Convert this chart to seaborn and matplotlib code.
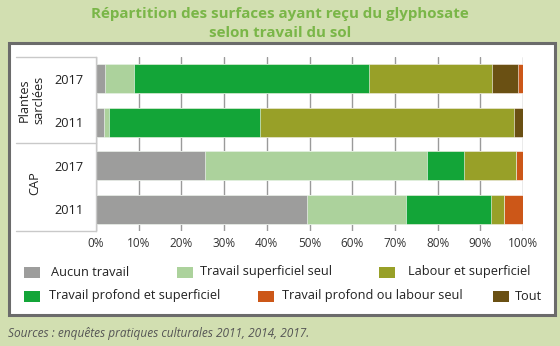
import numpy as np
import pandas as pd
import matplotlib
matplotlib.use("Agg")
import matplotlib.pyplot as plt
import seaborn as sns
from matplotlib.patches import Rectangle
from matplotlib.lines import Line2D

# ---------------- data ----------------
rows = ["PS 2017", "PS 2011", "CAP 2017", "CAP 2011"]
years = ["2017", "2011", "2017", "2011"]
groups = ["Plantes\nsarclées", "CAP"]
series = ["Aucun travail", "Travail superficiel seul", "Travail profond et superficiel",
          "Labour et superficiel", "Tout", "Travail profond ou labour seul"]
aucun = [2.1, 1.8, 25.6, 49.5]
sup_seul = [6.9, 1.2, 52.0, 23.2]
prof_sup = [54.9, 35.5, 8.5, 19.8]
labour_sup = [28.9, 59.4, 12.2, 3.1]
tout = [6.0, 2.1, 0.0, 0.0]
prof_ou_labour = [1.2, 0.0, 1.7, 4.4]
values = [aucun, sup_seul, prof_sup, labour_sup, tout, prof_ou_labour]
xticks = [0, 10, 20, 30, 40, 50, 60, 70, 80, 90, 100]
legend_order = ["Aucun travail", "Travail superficiel seul", "Labour et superficiel",
                "Travail profond et superficiel", "Travail profond ou labour seul", "Tout"]
title = "Répartition des surfaces ayant reçu du glyphosate\nselon travail du sol"
source = "Sources : enquêtes pratiques culturales 2011, 2014, 2017."

# ---------------- style ----------------
colors = {
    "Aucun travail": "#9d9d9c",
    "Travail superficiel seul": "#acd29c",
    "Travail profond et superficiel": "#13a538",
    "Labour et superficiel": "#98a028",
    "Tout": "#6a5013",
    "Travail profond ou labour seul": "#cc5718",
}
sns.set_style("white")
plt.rcParams["font.family"] = ["Open Sans", "DejaVu Sans"]

W, H = 560, 346
fig = plt.figure(figsize=(W / 100, H / 100), dpi=100)
fig.patch.set_facecolor("#d2dfb1")

def fx(px):
    return px / W

def fy(py):
    return 1 - py / H

# white panel with border
fig.add_artist(Rectangle((fx(9), fy(315)), fx(555) - fx(9), fy(43) - fy(315),
                         transform=fig.transFigure, facecolor="white",
                         edgecolor="#6b6b6b", linewidth=2.2, zorder=0))

ax_l, ax_r, ax_t, ax_b = 96, 523, 57, 231
ax = fig.add_axes([fx(ax_l), fy(ax_b), fx(ax_r) - fx(ax_l), fy(ax_t) - fy(ax_b)])
ax.set_facecolor("none")

cum = np.cumsum(np.array(values), axis=0)
for k in range(len(series) - 1, -1, -1):
    df = pd.DataFrame({"row": rows, "val": cum[k]})
    sns.barplot(data=df, x="val", y="row", orient="h", color=colors[series[k]],
                saturation=1, width=0.66, edgecolor="white", linewidth=0.4, ax=ax)

ax.set_xlim(0, 100)
ax.set_ylim(3.5, -0.5)
ax.set_xticks(xticks)
ax.set_xticklabels([f"{t}%" for t in xticks], fontsize=8.5, color="#333333")
ax.set_yticks(range(len(rows)))
ax.set_yticklabels(years, fontsize=9.2, color="#222222")
ax.tick_params(axis="y", length=0, pad=9)
ax.tick_params(axis="x", length=0, pad=4)
ax.set_xlabel("")
ax.set_ylabel("")
ax.set_axisbelow(True)
ax.xaxis.grid(True, color="#9a9a9a", linewidth=1)
ax.yaxis.grid(False)
for s in ["top", "right", "bottom"]:
    ax.spines[s].set_visible(False)
ax.spines["left"].set_color("#c9c9c9")
ax.spines["left"].set_linewidth(1)

# table lines on left
for py in [57, 143, 231]:
    fig.add_artist(Line2D([fx(16), fx(96)], [fy(py), fy(py)], transform=fig.transFigure,
                          color="#c9c9c9", linewidth=1))

# group labels
fig.text(fx(31.5), fy(100), groups[0], rotation=90, ha="center", va="center",
         fontsize=9.2, color="#222222", linespacing=1.1)
fig.text(fx(35), fy(183), groups[1], rotation=90, ha="center", va="center",
         fontsize=9.2, color="#222222")

# title
fig.text(0.5, fy(23.5), title, ha="center", va="center", fontsize=10.9,
         fontweight="bold", color="#7ab648", linespacing=1.5)

# legend (manual)
leg_pos = [(24, 51, 272), (177, 200, 272), (379, 408, 272),
           (24, 49, 296), (258, 282, 296), (493, 515, 296)]
for name, (mx, tx, py) in zip(legend_order, leg_pos):
    fig.add_artist(Rectangle((fx(mx), fy(py + 5.5)), fx(16), 11 / H, transform=fig.transFigure,
                             facecolor=colors[name], edgecolor="none"))
    fig.text(fx(tx), fy(py), name, ha="left", va="center", fontsize=9.2, color="#222222")

# source
fig.text(fx(8), fy(334), source, ha="left", va="center", fontsize=8.6,
         style="italic", color="#555555")

fig.savefig("out.png", dpi=100, facecolor=fig.get_facecolor())
